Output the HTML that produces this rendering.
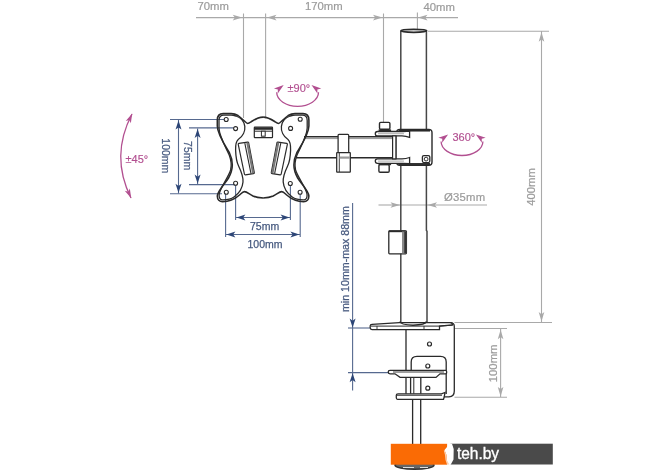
<!DOCTYPE html>
<html><head><meta charset="utf-8">
<style>
html,body{margin:0;padding:0;background:#fff;width:670px;height:471px;overflow:hidden}
svg{display:block;filter:blur(0.35px)}
text{font-family:"Liberation Sans",sans-serif}
</style></head>
<body>
<svg width="670" height="471" viewBox="0 0 670 471">
<rect width="670" height="471" fill="#fff"/>
<line x1="196" y1="17.6" x2="458" y2="17.6" stroke="#a9a9a9" stroke-width="1.1"/>
<line x1="243.5" y1="13.5" x2="243.5" y2="118" stroke="#a9a9a9" stroke-width="1.1"/>
<line x1="265.6" y1="13.5" x2="265.6" y2="118.5" stroke="#a9a9a9" stroke-width="1.1"/>
<line x1="383.5" y1="13.5" x2="383.5" y2="122.5" stroke="#a9a9a9" stroke-width="1.1"/>
<line x1="417.4" y1="12.5" x2="417.4" y2="29" stroke="#a9a9a9" stroke-width="1.1"/>
<line x1="428" y1="31.2" x2="549" y2="31.2" stroke="#a9a9a9" stroke-width="1.1"/>
<line x1="541.5" y1="31" x2="541.5" y2="322" stroke="#a9a9a9" stroke-width="1.1"/>
<line x1="454.5" y1="322.5" x2="552" y2="322.5" stroke="#a9a9a9" stroke-width="1.1"/>
<line x1="454.5" y1="328.5" x2="507" y2="328.5" stroke="#a9a9a9" stroke-width="1.1"/>
<line x1="454.5" y1="397.2" x2="507" y2="397.2" stroke="#a9a9a9" stroke-width="1.1"/>
<line x1="500.6" y1="329" x2="500.6" y2="397" stroke="#a9a9a9" stroke-width="1.1"/>
<line x1="378.5" y1="205" x2="400" y2="205" stroke="#a9a9a9" stroke-width="1.1"/>
<line x1="401" y1="205" x2="487" y2="205" stroke="#a9a9a9" stroke-width="1.1"/>
<path d="M242.20,17.60 L232.70,20.40 L234.90,17.60 L232.70,14.80 Z" fill="#a9a9a9"/>
<path d="M267.00,17.60 L276.50,14.80 L274.30,17.60 L276.50,20.40 Z" fill="#a9a9a9"/>
<path d="M382.50,17.60 L373.00,20.40 L375.20,17.60 L373.00,14.80 Z" fill="#a9a9a9"/>
<path d="M418.00,17.60 L427.50,14.80 L425.30,17.60 L427.50,20.40 Z" fill="#a9a9a9"/>
<path d="M541.50,32.20 L544.30,41.70 L541.50,39.50 L538.70,41.70 Z" fill="#a9a9a9"/>
<path d="M541.50,321.50 L538.70,312.00 L541.50,314.20 L544.30,312.00 Z" fill="#a9a9a9"/>
<path d="M500.60,329.80 L503.40,339.30 L500.60,337.10 L497.80,339.30 Z" fill="#a9a9a9"/>
<path d="M500.60,396.40 L497.80,386.90 L500.60,389.10 L503.40,386.90 Z" fill="#a9a9a9"/>
<path d="M400.00,205.00 L390.50,207.80 L392.70,205.00 L390.50,202.20 Z" fill="#a9a9a9"/>
<path d="M427.50,205.00 L437.00,202.20 L434.80,205.00 L437.00,207.80 Z" fill="#a9a9a9"/>
<g fill="#9b9b9b" font-size="11.3" stroke="#9b9b9b" stroke-width="0.2"><text x="197.5" y="10.3">70mm</text><text x="305" y="10.3">170mm</text><text x="423.5" y="10.5">40mm</text><text x="444" y="201" letter-spacing="0.25">Ø35mm</text><text transform="translate(534.9,205.8) rotate(-90)">400mm</text><text transform="translate(496.9,382.2) rotate(-90)">100mm</text></g>
<line x1="170" y1="119.5" x2="224" y2="119.5" stroke="#56698f" stroke-width="1.1"/>
<line x1="189" y1="127.9" x2="233.6" y2="127.9" stroke="#56698f" stroke-width="1.1"/>
<line x1="189" y1="184.6" x2="236" y2="184.6" stroke="#56698f" stroke-width="1.1"/>
<line x1="170" y1="193.8" x2="222" y2="193.8" stroke="#56698f" stroke-width="1.1"/>
<line x1="178.5" y1="120" x2="178.5" y2="193.5" stroke="#56698f" stroke-width="1.1"/>
<line x1="197.6" y1="128.5" x2="197.6" y2="184" stroke="#56698f" stroke-width="1.1"/>
<line x1="225.6" y1="193" x2="225.6" y2="237" stroke="#56698f" stroke-width="1.1"/>
<line x1="235.6" y1="185" x2="235.6" y2="220" stroke="#56698f" stroke-width="1.1"/>
<line x1="290.4" y1="185" x2="290.4" y2="220" stroke="#56698f" stroke-width="1.1"/>
<line x1="300.2" y1="194" x2="300.2" y2="237" stroke="#56698f" stroke-width="1.1"/>
<line x1="236" y1="217.5" x2="290" y2="217.5" stroke="#56698f" stroke-width="1.1"/>
<line x1="226" y1="234.5" x2="300" y2="234.5" stroke="#56698f" stroke-width="1.1"/>
<line x1="348" y1="328" x2="371" y2="328" stroke="#56698f" stroke-width="1.1"/>
<line x1="348" y1="372.6" x2="389" y2="372.6" stroke="#56698f" stroke-width="1.1"/>
<line x1="352.6" y1="203" x2="352.6" y2="390.5" stroke="#56698f" stroke-width="1.1"/>
<path d="M178.50,120.60 L181.50,129.60 L178.50,127.40 L175.50,129.60 Z" fill="#2c4576"/>
<path d="M178.50,192.80 L175.50,183.80 L178.50,186.00 L181.50,183.80 Z" fill="#2c4576"/>
<path d="M197.60,129.00 L200.60,138.00 L197.60,135.80 L194.60,138.00 Z" fill="#2c4576"/>
<path d="M197.60,183.50 L194.60,174.50 L197.60,176.70 L200.60,174.50 Z" fill="#2c4576"/>
<path d="M236.40,217.50 L245.40,214.50 L243.20,217.50 L245.40,220.50 Z" fill="#2c4576"/>
<path d="M289.60,217.50 L280.60,220.50 L282.80,217.50 L280.60,214.50 Z" fill="#2c4576"/>
<path d="M226.40,234.50 L235.40,231.50 L233.20,234.50 L235.40,237.50 Z" fill="#2c4576"/>
<path d="M299.40,234.50 L290.40,237.50 L292.60,234.50 L290.40,231.50 Z" fill="#2c4576"/>
<path d="M352.60,327.50 L349.60,318.50 L352.60,320.70 L355.60,318.50 Z" fill="#2c4576"/>
<path d="M352.60,373.20 L355.60,382.20 L352.60,380.00 L349.60,382.20 Z" fill="#2c4576"/>
<g fill="#46597f" font-size="10.5" stroke="#46597f" stroke-width="0.25"><text transform="translate(162.4,138.3) rotate(90)">100mm</text><text transform="translate(183.6,141.1) rotate(90)">75mm</text><text x="250" y="230.2">75mm</text><text x="247.5" y="247.6">100mm</text><text transform="translate(349.2,312) rotate(-90)" font-size="10.65">min 10mm-max 88mm</text></g>
<path d="M276.70000000000005,92.3 A20.9,14 0 0 0 318.5,92.3" stroke="#b24f90" stroke-width="1.3" fill="none"/><path d="M283.70,85.10 L277.78,93.54 L277.86,89.48 L273.94,88.42 Z" fill="#b24f90"/><path d="M311.50,85.10 L321.26,88.42 L317.34,89.48 L317.42,93.54 Z" fill="#b24f90"/>
<path d="M441.1,141.6 A20.9,13.9 0 0 0 482.9,141.6" stroke="#b24f90" stroke-width="1.3" fill="none"/><path d="M448.10,134.40 L442.18,142.84 L442.26,138.78 L438.34,137.72 Z" fill="#b24f90"/><path d="M475.90,134.40 L485.66,137.72 L481.74,138.78 L481.82,142.84 Z" fill="#b24f90"/>
<path d="M132,114 Q110,156 131,198" stroke="#b24f90" stroke-width="1.3" fill="none"/>
<path d="M132.20,113.50 L130.85,123.31 L129.33,119.88 L125.75,121.01 Z" fill="#b24f90"/>
<path d="M131.20,198.20 L124.75,190.69 L128.33,191.82 L129.85,188.39 Z" fill="#b24f90"/>
<g fill="#b24f90" font-size="11" stroke="#b24f90" stroke-width="0.15"><text x="287.5" y="92.4">±90°</text><text x="125.5" y="162.9">±45°</text><text x="452.4" y="141">360°</text></g>
<g stroke="#474747" stroke-width="1.5" fill="none"><line x1="400.8" y1="30.8" x2="400.8" y2="324"/><path d="M426.4,30.8 V230.5 L427,231.3 V324"/></g>
<ellipse cx="413.8" cy="30.8" rx="12.9" ry="1.5" stroke="#2a2a2a" stroke-width="1.7" fill="#fff"/>
<g stroke="#2a2a2a" stroke-width="1.4" fill="#fff"><path d="M304,136.8 H392.6 M296,157.8 H392.6" fill="none" stroke-width="1.6"/><path d="M304.5,138.6 H392" fill="none" stroke-width="0.8" stroke="#777"/><path d="M338.1,153 V135.3 Q338.1,134.4 339,134.4 H347.8 Q348.7,134.4 348.7,135.3 V153" stroke-width="1.25"/><rect x="336.7" y="152.5" width="13.6" height="19.6" rx="0.4" stroke-width="1.25"/><path d="M339.3,153 V172" stroke-width="0.9"/><path d="M339.5,157.6 H350" stroke-width="2.2" stroke="#999"/><rect x="396.6" y="129.4" width="35.4" height="35.8" rx="3.2"/><path d="M398.5,130.6 H430" stroke-width="1.9"/><path d="M398.5,164 H430" stroke-width="1.9"/><rect x="396.6" y="132" width="15" height="30" fill="#fff" stroke="none"/><path d="M377.5,131.5 H403 Q407,131.5 409.6,131.2 V137.3 Q406,136 402,135.9 H377.5 Q375.3,135.9 375.3,133.7 Q375.3,131.5 377.5,131.5 Z" stroke-width="1.3"/><path d="M377.5,163.3 H403 Q407,163.3 409.6,163.6 V157.5 Q406,158.8 402,158.9 H377.5 Q375.3,158.9 375.3,161.1 Q375.3,163.3 377.5,163.3 Z" stroke-width="1.3"/><path d="M378,133.7 H404 M378,161.1 H404" stroke-width="0.7" stroke="#888"/><rect x="392.6" y="135.9" width="3.3" height="23" stroke-width="1.2"/><rect x="379.5" y="122.4" width="10.4" height="6.9" rx="1.2"/><path d="M378.6,130.4 H391.1" stroke-width="2"/><rect x="378.9" y="164.6" width="10.3" height="7.6" rx="1.2"/><path d="M378.6,164.2 H391.1" stroke-width="2"/><rect x="422.4" y="155.6" width="7.4" height="7" rx="1.5" stroke-width="1.3"/><circle cx="426.1" cy="159.1" r="1.9" fill="none" stroke-width="1"/></g>
<g id="ph" stroke="#2a2a2a" stroke-width="1.55" fill="none"><path d="M263.1,117.1 C258.5,117.1 254.5,119.5 251.5,121.5 C250,122.5 248.8,123.4 247.7,123.4 C246.3,123.4 244,120 238,115.5 C236,114.3 233.5,113.6 231.2,113.6 L223.2,113.6 C219,113.6 217.3,116 217.3,120 L217.3,126 C217.3,134 226,147 229.5,153 C231.5,157 232.3,161 232.3,165 C232.3,169 231,173.5 228.5,178 C225.5,183 217.3,191 217.3,196 C217.3,199.5 219.5,201.7 222.5,201.7 C228,201.7 235,199 239.5,195 C241.5,193.2 243,191.6 244.5,191.6 C246.5,191.6 249.5,194.2 253,196 C256,197.4 259.5,197.9 263.1,197.9"/><path d="M236,116 C240,117.3 244,121 244.8,126.3 C245.3,131 243,136.5 238.2,139.5 C235.8,141.5 235.5,145 235.6,150 C235.8,156 236.5,162 238.6,166 C241,171 243.5,176 243,182 C242.5,188 239.5,193 234,197 C230,199.9 226,199.9 222,199.8 C219.3,199.6 218.9,196.5 219.2,194 C220.1,188 228.6,177 230.6,170 C231.6,166 231.1,160 229.2,155 C226.6,149 219.1,136 219,128 L219,120.5 C219,116.6 220.8,115.2 223.8,115.2 L231,115.2 C233,115.2 234.5,115.6 236,116 Z" stroke-width="1.3"/></g><use href="#ph" transform="translate(526.2,0) scale(-1,1)"/>
<g stroke="#2a2a2a" stroke-width="1.1" fill="#fff"><circle cx="226.2" cy="119.5" r="2"/><circle cx="300.2" cy="119.2" r="2"/><circle cx="226.3" cy="192.3" r="2"/><circle cx="300.1" cy="192.3" r="2"/><circle cx="235.6" cy="128.6" r="2"/><circle cx="290.6" cy="128.4" r="2"/><circle cx="235.6" cy="183.3" r="2"/><circle cx="290.3" cy="183.5" r="2"/></g>
<g stroke="#2a2a2a" stroke-width="1.2" fill="#fff"><rect x="254.3" y="127.2" width="18.2" height="10.4" rx="0.6"/><path d="M254.3,128.6 H272.5" stroke-width="2.4"/><path d="M254.3,131.2 H272.5" stroke-width="1"/><rect x="261.4" y="131.2" width="3.8" height="5" stroke-width="1"/><path d="M238.3,144.6 Q238,143.6 239,143.4 L247.6,142.2 Q248.5,142.1 248.7,143 L254.3,172.6 Q254.4,173.6 253.4,173.7 L245.4,174.9 Q244.6,175 244.4,174 Z"/><path d="M247.4,142.8 L253.2,173.2" stroke-width="2.2" stroke="#777"/><path d="M244.8,143.2 L251,173.6" stroke-width="1.1"/><path d="M287.3,144.6 Q287.6,143.6 286.6,143.4 L278,142.2 Q277.1,142.1 276.9,143 L271.3,172.6 Q271.2,173.6 272.2,173.7 L280.2,174.9 Q281,175 281.2,174 Z"/><path d="M278.2,142.8 L272.4,173.2" stroke-width="2.2" stroke="#777"/><path d="M280.8,143.2 L274.6,173.6" stroke-width="1.1"/></g>
<g stroke="#2a2a2a" stroke-width="1.3" fill="#fff"><rect x="388.8" y="230.8" width="17.6" height="23" rx="0.8"/><path d="M389,231.3 H405.5" stroke-width="1.8"/><rect x="402" y="231.5" width="4.2" height="21.8" fill="#8a8a8a" stroke="none"/><rect x="404.3" y="231.5" width="2" height="21.8" fill="#333" stroke="none"/></g>
<g stroke="#2a2a2a" stroke-width="1.3" fill="#fff"><path d="M406,329.5 V396.8 H449 Q454.3,396.5 454.3,391 V326.5 Q454.3,322.6 450.5,322.6 H400"/><path d="M372,324.4 L399.5,322.6 H450 Q452.5,322.8 452.5,325 L439.5,326.2 V329.6 H372 Q370.2,329.6 370.2,327.8 V325.8 Q370.2,324.5 372,324.4 Z"/><path d="M371,326.1 H439.5 L452.5,325.2" fill="none" stroke-width="1"/><path d="M377,326.1 V329.6 M424,326.1 V329.6" fill="none" stroke-width="0.9"/><path d="M400,321.5 Q400.5,324.8 413,325.2 Q425.5,324.8 426.5,321.5" fill="none" stroke-width="1.4"/><circle cx="429.5" cy="344" r="2" fill="none" stroke-width="1.2"/><path d="M411.2,394 V362 Q411.2,356.4 417,356.4 H440.5 Q446.2,356.4 446.2,362 V394"/><circle cx="427.8" cy="366" r="2" fill="none" stroke-width="1.2"/><circle cx="427.8" cy="388.2" r="2" fill="none" stroke-width="1.2"/><rect x="410.6" y="376" width="10.2" height="18.5"/><path d="M413.8,377 V394" stroke-width="1"/><path d="M390,370.3 H445.6 Q446.6,370.3 446.6,371.5 V373 Q446.6,373.8 445.6,373.8 H440 L436,377.4 H400 L395,373.8 H390 Q388.2,373.8 388.2,372 Q388.2,370.3 390,370.3 Z"/><path d="M393,372 H444" stroke-width="0.9" fill="none"/><path d="M398,393.8 H441.5 L445,392.5 L444.2,397 L443.5,399.3 H397.5 Q396.3,399.3 396.3,397.8 V395.2 Q396.3,393.8 398,393.8 Z"/><path d="M397,395.3 H442" stroke-width="0.9" fill="none"/><path d="M412.6,399.5 V444 M420.7,399.5 V444" fill="none"/></g>
<ellipse cx="414.5" cy="465" rx="19.5" ry="4.3" fill="#666" stroke="#333" stroke-width="1.6"/><path d="M403,467.5 H414 M420,467.5 H428" stroke="#ddd" stroke-width="1.2"/><rect x="390.8" y="443.8" width="56.3" height="20.9" fill="#fa6b05"/><rect x="450.5" y="443.7" width="102.3" height="20.8" fill="#4a4a4a"/><path d="M449.9,443.8 L452,443.8 L453.7,448.9 L453.5,459.6 L450.8,464.6 L449.3,464.6 L446.9,460.2 L446.5,455 L444.5,450.1 L447,447 Z" fill="#fff"/><path d="M444.5,450.1 L446.5,455 L446.9,460.2 L449.3,464.6 L447,464.6 L445.5,460 L445,455 L443.8,450.5 Z" fill="#fbd0b0"/><text x="456.9" y="458.9" font-size="16.6" fill="#fff" stroke="#fff" stroke-width="0.35" textLength="42.2" lengthAdjust="spacingAndGlyphs">teh.by</text>
</svg>
</body></html>
